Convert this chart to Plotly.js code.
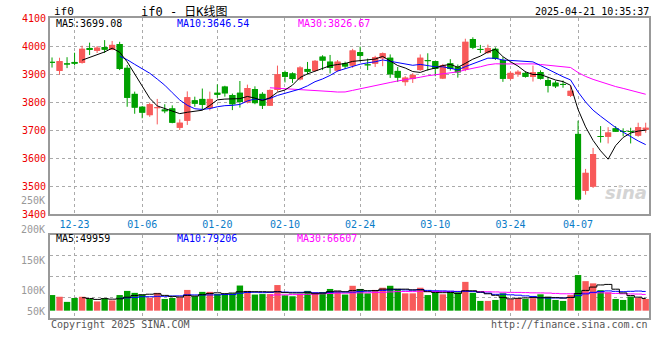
<!DOCTYPE html>
<html><head><meta charset="utf-8">
<script src="https://cdn.plot.ly/plotly-3.0.1.min.js"></script>
<style>html,body{margin:0;padding:0;background:#fff}#chart{width:660px;height:360px}</style>
</head><body><div id="chart"></div>
<script>
// ---- data ----
const dates = [
 '2024-12-18','2024-12-19','2024-12-20','2024-12-23','2024-12-24','2024-12-25','2024-12-26','2024-12-27','2024-12-30','2024-12-31',
 '2025-01-02','2025-01-03','2025-01-06','2025-01-07','2025-01-08','2025-01-09','2025-01-10','2025-01-13','2025-01-14','2025-01-15',
 '2025-01-16','2025-01-17','2025-01-20','2025-01-21','2025-01-22','2025-01-23','2025-01-24','2025-01-27','2025-02-05','2025-02-06',
 '2025-02-07','2025-02-10','2025-02-11','2025-02-12','2025-02-13','2025-02-14','2025-02-17','2025-02-18','2025-02-19','2025-02-20',
 '2025-02-21','2025-02-24','2025-02-25','2025-02-26','2025-02-27','2025-02-28','2025-03-03','2025-03-04','2025-03-05','2025-03-06',
 '2025-03-07','2025-03-10','2025-03-11','2025-03-12','2025-03-13','2025-03-14','2025-03-17','2025-03-18','2025-03-19','2025-03-20',
 '2025-03-21','2025-03-24','2025-03-25','2025-03-26','2025-03-27','2025-03-28','2025-03-31','2025-04-01','2025-04-02','2025-04-03',
 '2025-04-07','2025-04-08','2025-04-09','2025-04-10','2025-04-11','2025-04-14','2025-04-15','2025-04-16','2025-04-17','2025-04-18'];
const openP = [3942,3911,3938,3943,3940,3993,3983,3996,3987,4007, 3922,3829,3783,3753,3778,3773,3777,3708,3733,3806,
 3811,3778,3833,3855,3825,3833,3799,3846,3829,3787, 3843,3907,3902,3881,3918,3911,3962,3944,3912,3938,
 3930,3978,3934,3937,3956,3958,3911,3871,3882,3914, 3948,3946,3884,3938,3926,3916,4025,3988,3975,3990,
 3950,3883,3899,3904,3890,3907,3878,3869,3863,3822, 3686,3483,3498,3677,3676,3706,3695,3695,3680,3701];
const highP = [3959,3958,3960,3976,4001,4012,4000,4021,4018,4015, 3932,3837,3786,3798,3811,3792,3788,3738,3838,3819,
 3848,3837,3863,3858,3830,3875,3862,3856,3835,3845, 3930,3912,3906,3928,3943,3950,3967,3968,3950,3944,
 3990,3998,3955,3965,3977,3970,3925,3892,3903,3970, 3974,3946,3936,3953,3934,4026,4031,4004,4005,3995,
 3960,3910,3914,3910,3930,3913,3890,3876,3877,3858, 3733,3561,3636,3714,3710,3714,3706,3708,3726,3726];
const lowP = [3923,3897,3921,3931,3937,3968,3975,3975,3985,3914, 3783,3758,3742,3747,3720,3760,3724,3700,3718,3783,
 3773,3770,3815,3819,3771,3780,3795,3792,3775,3786, 3837,3870,3868,3877,3898,3908,3914,3902,3908,3918,
 3922,3945,3914,3925,3928,3886,3872,3858,3868,3911, 3912,3892,3882,3912,3887,3910,3989,3975,3972,3950,
 3872,3878,3890,3887,3873,3880,3834,3850,3851,3818, 3452,3469,3493,3655,3652,3694,3678,3652,3676,3690];
const closeP = [3940,3946,3934,3937,3990,3986,3994,3987,4004,3918, 3815,3780,3762,3792,3781,3767,3726,3726,3817,3794,
 3790,3811,3826,3831,3792,3800,3850,3796,3787,3843, 3899,3890,3882,3923,3908,3947,3948,3922,3944,3927,
 3984,3965,3931,3960,3974,3899,3887,3887,3897,3958, 3946,3918,3932,3918,3906,4015,3994,3986,3993,3954,
 3883,3904,3908,3890,3906,3883,3858,3856,3861,3840, 3452,3547,3614,3675,3691,3694,3693,3693,3710,3708];
const volume = [64000,57000,36000,52000,57000,48000,38000,51000,42000,64000, 81000,73000,66000,53000,73000,48000,52000,55000,85000,59000,
 77000,77000,68000,68000,71000,103000,81000,66000,68000,68000, 105000,63000,59000,68000,81000,76000,76000,89000,81000,66000,
 102000,89000,71000,85000,94000,102000,89000,71000,71000,94000, 64000,73000,67000,75000,75000,118000,73000,40000,40000,44000,
 71000,47000,51000,48000,51000,67000,57000,44000,40000,64000, 146000,121000,112000,84000,75000,48000,44000,58000,52000,48000];
const xTickDates = ['2024-12-23','2025-01-06','2025-01-20','2025-02-10','2025-02-24','2025-03-10','2025-03-24','2025-04-07'];
const xTickLabels = ['12-23','01-06','01-20','02-10','02-24','03-10','03-24','04-07'];
const priceTicks = [3400,3500,3600,3700,3800,3900,4000,4100];
const volTickLabels = ['250K','200K','150K','100K','50K'];
const maPriceLabels = ['MA5:3699.08','MA10:3646.54','MA30:3826.67'];
const maVolLabels = ['MA5:49959','MA10:79206','MA30:66607'];
const titleText = 'if0 - 日K线图';
const symbolText = 'if0';
const timeText = '2025-04-21 10:35:37';
const copyText = 'Copyright 2025 SINA.COM';
const urlText = 'http://finance.sina.com.cn';

// ---- styles ----
const UP = '#f85a5a', DOWN = '#00a000';
const MONO = 'DejaVu Sans Mono, Liberation Mono, monospace';
const W = 660, H = 360;
const px = v => v / W, py = v => 1 - v / H;

function ma(arr, n) {
  return arr.map((_, i) => i < n - 1 ? null : arr.slice(i - n + 1, i + 1).reduce((a, b) => a + b, 0) / n);
}
const isUp = closeP.map((c, i) => c >= openP[i]);
const colors = isUp.map(u => u ? UP : DOWN);

// wicks
function wick(up) {
  const x = [], y = [];
  dates.forEach((d, i) => { if (isUp[i] === up) { x.push(d, d, null); y.push(lowP[i], highP[i], null); } });
  return {type: 'scatter', mode: 'lines', x, y, xaxis: 'x', yaxis: 'y', line: {color: up ? UP : DOWN, width: 1}, hoverinfo: 'skip'};
}
const bodyBase = openP.map((o, i) => Math.min(o, closeP[i]));
const bodyH = openP.map((o, i) => Math.max(Math.abs(closeP[i] - o), 3.5));

const traces = [
  {type: 'bar', x: dates, y: bodyH, base: bodyBase, width: 0.8, marker: {color: colors, line: {width: 0}}, xaxis: 'x', yaxis: 'y', hoverinfo: 'skip'},
  wick(true), wick(false),
  {type: 'bar', x: dates, y: bodyH, base: bodyBase, width: 0.8, marker: {color: colors, line: {width: 0}}, xaxis: 'x', yaxis: 'y', hoverinfo: 'skip'},
  {type: 'scatter', mode: 'lines', x: dates, y: ma(closeP, 30), line: {color: '#ff00ff', width: 1}, xaxis: 'x', yaxis: 'y'},
  {type: 'scatter', mode: 'lines', x: dates, y: ma(closeP, 10), line: {color: '#0000ff', width: 1}, xaxis: 'x', yaxis: 'y'},
  {type: 'scatter', mode: 'lines', x: dates, y: ma(closeP, 5), line: {color: '#000000', width: 1}, xaxis: 'x', yaxis: 'y'},
  {type: 'bar', x: dates, y: volume, width: 0.85, marker: {color: colors, line: {width: 0}}, xaxis: 'x2', yaxis: 'y2', hoverinfo: 'skip'},
  {type: 'scatter', mode: 'lines', x: dates, y: ma(volume, 30), line: {color: '#ff00ff', width: 1, shape: 'hvh'}, xaxis: 'x2', yaxis: 'y2'},
  {type: 'scatter', mode: 'lines', x: dates, y: ma(volume, 10), line: {color: '#0000ff', width: 1, shape: 'hvh'}, xaxis: 'x2', yaxis: 'y2'},
  {type: 'scatter', mode: 'lines', x: dates, y: ma(volume, 5), line: {color: '#000000', width: 1, shape: 'hvh'}, xaxis: 'x2', yaxis: 'y2'}
];

const xDomain = [px(50), px(649)];
const xRange = [-0.27, dates.length - 1 + 0.44];
const gridStyle = {showgrid: true, gridcolor: '#aaaaaa', griddash: 'dot', gridwidth: 1, zeroline: false,
  showline: true, linecolor: '#999999', linewidth: 2, mirror: true, ticks: ''};

const ann = [];
function txt(text, x, y, color, anchor, size, extra) {
  ann.push(Object.assign({text, x: px(x), y: py(y), xref: 'paper', yref: 'paper', xanchor: anchor, yanchor: 'middle',
    showarrow: false, font: {family: MONO, size: size || 10, color}}, extra || {}));
}
txt(symbolText, 52, 12, '#000', 'left', 11);
txt(titleText, 139, 12, '#000', 'left', 12, {font: {family: 'DejaVu Sans Mono, Noto Sans CJK SC', size: 12, color: '#000'}});
txt(timeText, 651, 12, '#000', 'right', 10);
txt(maPriceLabels[0], 54, 23, '#000', 'left');
txt(maPriceLabels[1], 175, 23, '#0000ff', 'left');
txt(maPriceLabels[2], 296, 23, '#ff00ff', 'left');
txt(maVolLabels[0], 54, 238, '#000', 'left');
txt(maVolLabels[1], 175, 238, '#0000ff', 'left');
txt(maVolLabels[2], 295, 238, '#ff00ff', 'left');
const volLabelY = [200, 230, 260, 290, 311];
volTickLabels.forEach((t, i) => txt(t, 47, volLabelY[i], '#999999', 'right', 10));
txt(copyText, 49, 324, '#555555', 'left', 10);
txt(urlText, 650, 324, '#555555', 'right', 10);
txt('sina', 626, 192, '#d4d4d4', 'center', 18, {font: {family: 'DejaVu Sans', size: 18, color: '#d4d4d4', weight: 'bold', style: 'italic'}});

const catAxis = {type: 'category', categoryorder: 'array', categoryarray: dates};
const layout = {
  width: W, height: H, autosize: false, margin: {l: 0, r: 0, t: 0, b: 0},
  paper_bgcolor: '#fff', plot_bgcolor: '#fff', showlegend: false, barmode: 'overlay', hovermode: false,
  xaxis: Object.assign({}, gridStyle, catAxis, {domain: xDomain, anchor: 'y', range: xRange,
    tickmode: 'array', tickvals: xTickDates, ticktext: xTickLabels, tickfont: {family: MONO, size: 10, color: '#0a7cc8'}}),
  yaxis: Object.assign({}, gridStyle, {domain: [py(214), py(18)], anchor: 'x', range: [3400, 4100],
    tickmode: 'array', tickvals: priceTicks, tickfont: {family: MONO, size: 10, color: '#ee0000'}}),
  xaxis2: Object.assign({}, gridStyle, catAxis, {domain: xDomain, anchor: 'y2', matches: 'x', range: xRange,
    tickmode: 'array', tickvals: xTickDates, showticklabels: false}),
  yaxis2: Object.assign({}, gridStyle, {domain: [py(318), py(235)], anchor: 'x2', range: [-30000, 310000],
    tick0: -30000, dtick: 85000, showticklabels: false}),
  annotations: ann
};
Plotly.newPlot('chart', traces, layout, {staticPlot: true, displayModeBar: false});
</script></body></html>
